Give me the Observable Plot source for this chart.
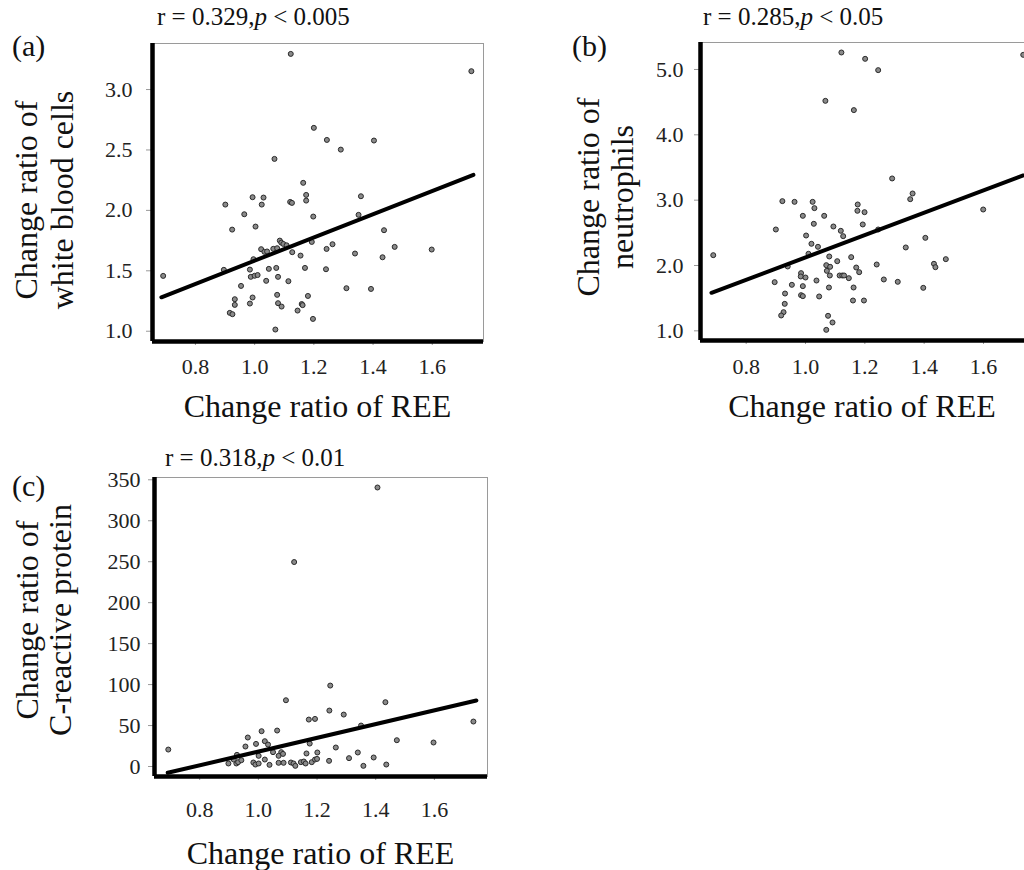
<!DOCTYPE html>
<html><head><meta charset="utf-8">
<script src="https://cdn.jsdelivr.net/npm/d3@7"></script>
<script src="https://cdn.jsdelivr.net/npm/@observablehq/plot@0.6"></script>
<style>
html,body{margin:0;padding:0;background:#fff;overflow:hidden}
#root{position:relative;width:1024px;height:870px;font-family:"Liberation Serif",serif;color:#111;overflow:hidden}
.t{position:absolute;white-space:nowrap;line-height:1}
.rot{position:absolute;white-space:nowrap;line-height:1;font-size:32px;transform:translate(-50%,-50%) rotate(-90deg)}
.pl{position:absolute}
</style></head><body><div id="root"></div>
<script>
// ---- data ----
const xTicks = [0.8, 1.0, 1.2, 1.4, 1.6];
const yTicksA = [1.0, 1.5, 2.0, 2.5, 3.0];
const yTicksB = [1.0, 2.0, 3.0, 4.0, 5.0];
const yTicksC = [0, 50, 100, 150, 200, 250, 300, 350];

// (a) change ratio of REE vs white blood cells
const reeA = [1.122,1.732,1.200,1.244,1.403,1.291,1.067,1.164,1.174,1.174,0.993,1.030,1.024,1.120,1.126,0.901,1.359,0.965,1.198,1.351,1.003,0.924,1.437,1.193,1.263,1.085,1.090,1.097,1.108,1.022,1.033,1.042,1.063,1.076,1.127,1.155,1.243,1.339,1.473,1.598,1.432,0.996,0.896,0.984,1.048,1.073,1.170,1.241,0.691,0.987,1.000,1.010,1.079,1.039,1.114,0.954,1.310,1.393,0.993,1.076,1.180,0.933,0.933,0.984,1.079,1.091,1.159,1.162,1.145,0.916,0.925,1.197,1.070];
const wbc  = [3.295,3.152,2.683,2.583,2.578,2.503,2.426,2.228,2.128,2.081,2.109,2.106,2.048,2.070,2.062,2.048,2.117,1.968,1.949,1.963,1.866,1.841,1.836,1.739,1.720,1.750,1.733,1.722,1.711,1.679,1.657,1.660,1.682,1.687,1.654,1.626,1.681,1.643,1.698,1.676,1.612,1.596,1.508,1.510,1.516,1.524,1.524,1.513,1.458,1.450,1.459,1.465,1.450,1.417,1.414,1.375,1.356,1.350,1.279,1.301,1.292,1.265,1.218,1.229,1.232,1.204,1.225,1.216,1.171,1.152,1.141,1.102,1.014];
const fitAx = [0.685, 1.739];
const fitAy = [1.281, 2.294];

// (b) change ratio of REE vs neutrophils
const reeB = [1.121,1.201,1.734,1.245,1.067,1.163,1.292,1.361,1.353,0.922,0.963,1.024,1.030,1.176,1.175,1.199,0.991,1.063,1.599,1.028,1.193,1.094,0.900,1.119,1.127,1.245,1.002,1.020,1.042,1.404,1.338,0.689,1.010,1.080,1.154,1.473,1.107,0.940,1.070,1.083,1.072,1.240,1.433,1.438,1.171,1.181,0.985,0.984,1.000,1.082,1.115,1.124,1.130,1.146,1.037,1.264,1.311,0.896,0.954,0.991,1.079,1.162,1.397,0.931,0.985,0.991,1.046,0.930,1.160,1.197,0.926,0.918,1.076,1.091,1.070];
const neut = [5.260,5.163,5.224,4.990,4.520,4.378,3.332,3.102,3.015,2.985,2.974,2.974,2.878,2.934,2.837,2.816,2.760,2.760,2.857,2.638,2.628,2.597,2.551,2.531,2.449,2.551,2.459,2.332,2.286,2.423,2.276,2.158,2.179,2.138,2.128,2.097,2.066,1.985,2.005,1.980,1.918,2.015,2.026,1.974,1.969,1.898,1.883,1.832,1.816,1.847,1.847,1.847,1.847,1.806,1.770,1.786,1.750,1.745,1.704,1.684,1.663,1.663,1.658,1.571,1.546,1.531,1.526,1.413,1.464,1.464,1.286,1.235,1.230,1.128,1.015];
const fitBx = [0.683, 1.734];
const fitBy = [1.582, 3.378];

// (c) change ratio of REE vs C-reactive protein
const reeC = [1.406,1.122,1.245,1.094,1.433,1.242,1.291,1.172,1.193,1.733,1.350,0.964,1.011,1.064,1.472,1.597,0.693,0.992,1.022,1.033,0.956,1.264,1.175,1.050,1.078,1.069,1.084,0.927,1.001,1.164,1.201,1.339,1.309,1.393,1.022,1.241,0.898,0.925,0.931,0.942,0.983,0.990,1.001,1.038,1.069,1.086,1.111,1.120,1.126,1.145,1.155,1.161,1.182,1.193,1.200,1.358,1.436,0.916];
const crp  = [340.6,249.6,98.8,80.9,78.5,68.3,63.4,57.3,58.1,54.9,50.0,35.4,43.1,43.9,32.1,29.3,20.7,27.6,30.9,26.8,24.4,23.2,28.0,17.5,17.5,13.0,15.4,14.2,13.0,15.9,17.1,17.1,10.2,11.0,8.5,6.9,3.7,3.7,5.3,7.7,4.9,2.4,3.7,2.0,4.5,4.5,4.9,3.7,0.8,5.3,6.1,3.7,5.3,8.5,9.3,0.8,2.4,8.5];
const fitCx = [0.691, 1.743];
const fitCy = [-7.7, 80.5];

const panelTags = ["(a)", "(b)", "(c)"];
const statR = ["0.329", "0.285", "0.318"];
const statP = ["0.005", "0.05", "0.01"];
const yTitles = [["Change ratio of", "white blood cells"], ["Change ratio of", "neutrophils"], ["Change ratio of", "C-reactive protein"]];
const xTitle = "Change ratio of REE";

// ---- drawing ----
const root = document.getElementById("root");
const FONT = "'Liberation Serif', serif";

function makePanel(o) {
  const pts = o.xs.map((x, i) => ({x, y: o.ys[i]}));
  const fit = o.fx.map((x, i) => ({x, y: o.fy[i]}));
  const svg = Plot.plot({
    width: o.w, height: o.h,
    marginLeft: o.ml, marginRight: o.mr, marginTop: o.mt, marginBottom: o.mb,
    x: {domain: o.xd, axis: null},
    y: {domain: o.yd, axis: null},
    style: {fontFamily: FONT, background: "transparent", overflow: "visible"},
    marks: [
      Plot.frame({stroke: "#9a9a9a", strokeWidth: 1}),
      Plot.axisX(xTicks, {anchor: "bottom", label: null, tickSize: 4, tickPadding: o.xpad, stroke: "#999", fill: "#222", fontSize: 22, tickFormat: d => d.toFixed(1)}),
      Plot.axisY(o.yt, {anchor: "left", label: null, tickSize: 6, tickPadding: o.ypad, stroke: "#999", fill: "#222", fontSize: 22, tickFormat: o.yf}),
      Plot.dot(pts, {x: "x", y: "y", r: 2.5, fill: "#8a8a8a", stroke: "#2a2a2a", strokeWidth: 1}),
      Plot.line(fit, {x: "x", y: "y", stroke: "#000", strokeWidth: 4}),
      Plot.ruleX([o.xd[0]], {stroke: "#000", strokeWidth: 4.5}),
      Plot.ruleY([o.yd[0]], {stroke: "#000", strokeWidth: 4.5})
    ]
  });
  svg.classList.add("pl");
  svg.style.left = o.left + "px";
  svg.style.top = o.top + "px";
  root.appendChild(svg);
}

makePanel({xs: reeA, ys: wbc, fx: fitAx, fy: fitAy, xd: [0.655, 1.773], yd: [0.915, 3.381], yt: yTicksA, yf: d => d.toFixed(1),
  left: 0, top: 0, w: 500, h: 400, ml: 152, mr: 17, mt: 43, mb: 59, xpad: 13, ypad: 14});
makePanel({xs: reeB, ys: neut, fx: fitBx, fy: fitBy, xd: [0.646, 1.745], yd: [0.852, 5.413], yt: yTicksB, yf: d => d.toFixed(1),
  left: 550, top: 0, w: 476, h: 400, ml: 150, mr: 0, mt: 42, mb: 60, xpad: 14, ypad: 11});
makePanel({xs: reeC, ys: crp, fx: fitCx, fy: fitCy, xd: [0.646, 1.781], yd: [-12.2, 352.8], yt: yTicksC, yf: d => String(d),
  left: 0, top: 440, w: 500, h: 430, ml: 154, mr: 13, mt: 37, mb: 94, xpad: 21, ypad: 8});

function addText(html, left, top, size, extra) {
  const d = document.createElement("div");
  d.className = "t";
  d.style.left = left + "px";
  d.style.top = top + "px";
  d.style.fontSize = size + "px";
  if (extra) Object.assign(d.style, extra);
  d.innerHTML = html;
  root.appendChild(d);
}
function addRot(text, cx, cy) {
  const d = document.createElement("div");
  d.className = "rot";
  d.style.left = cx + "px";
  d.style.top = cy + "px";
  d.textContent = text;
  root.appendChild(d);
}

// panel tags
const tagPos = [[12, 31], [572, 31], [12, 471]];
tagPos.forEach((p, i) => addText(panelTags[i], p[0], p[1], 30));
// stat titles
const statPos = [[157, 4], [703, 4], [165, 445]];
statPos.forEach((p, i) => addText(`r = ${statR[i]},<i>p</i> &lt; ${statP[i]}`, p[0], p[1], 25));
// x titles (centered)
const xtPos = [[317.5, 390], [862, 390], [320.5, 837]];
xtPos.forEach(p => addText(xTitle, p[0], p[1], 32, {transform: "translateX(-50%)"}));
// y titles
const ytPos = [[[25.5, 200], [61.5, 200]], [[588, 197], [622, 197]], [[27, 620], [60, 620]]];
ytPos.forEach((lines, i) => lines.forEach((p, j) => addRot(yTitles[i][j], p[0], p[1])));
</script>
</body></html>
